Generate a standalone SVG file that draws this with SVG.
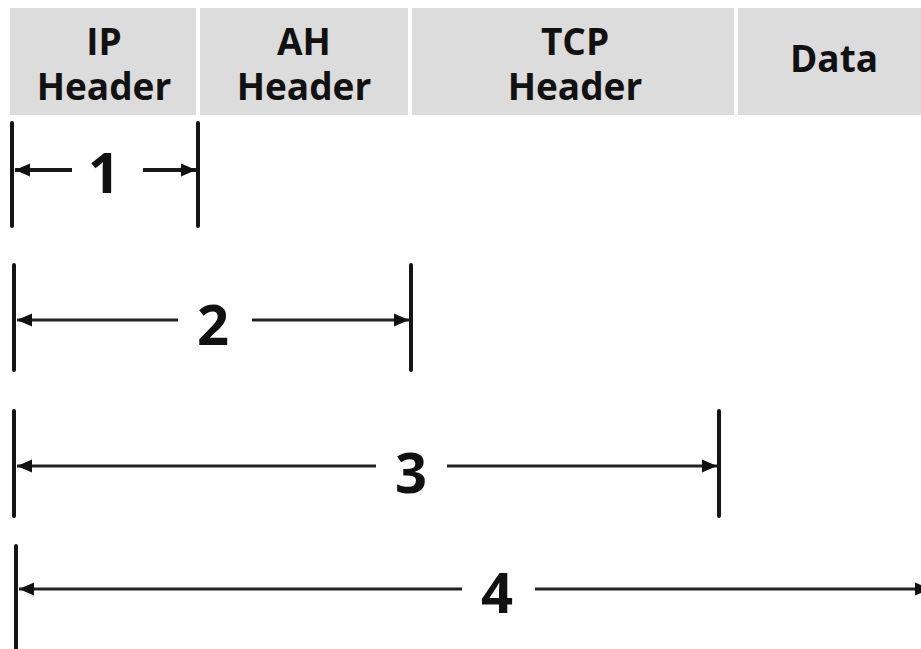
<svg xmlns="http://www.w3.org/2000/svg" width="921" height="649" viewBox="0 0 921 649">
  <style>
    .box { fill: #dcdcdc; }
    .hdr { font-family: "Open Sans", "Noto Sans", sans-serif; font-weight: 700; font-size: 37px; fill: #111; text-anchor: middle; }
    .num { font-family: "Open Sans", "Noto Sans", sans-serif; font-weight: 700; font-size: 56px; fill: #111; text-anchor: middle; }
    .tick { stroke: #151515; stroke-width: 4; stroke-linecap: round; fill: none; }
    .dim { stroke: #222; stroke-width: 3; fill: none; }
    .dim1 { stroke: #1a1a1a; stroke-width: 4; fill: none; }
  </style>
  <defs>
    <marker id="ah" markerUnits="userSpaceOnUse" markerWidth="16" markerHeight="16" viewBox="0 0 16 16" refX="15" refY="8" orient="auto-start-reverse">
      <path d="M0,1.5 L15,8 L0,14.5 Z" fill="#111"/>
    </marker>
  </defs>
  <rect width="921" height="649" fill="#fff"/>

  <g id="ip-header">
    <rect class="box" x="10" y="8" width="186" height="107"/>
    <text class="hdr" x="104" y="55">IP</text>
    <text class="hdr" x="104" y="100">Header</text>
  </g>
  <g id="ah-header">
    <rect class="box" x="200" y="8" width="208" height="107"/>
    <text class="hdr" x="304" y="55">AH</text>
    <text class="hdr" x="304" y="100">Header</text>
  </g>
  <g id="tcp-header">
    <rect class="box" x="412" y="8" width="322" height="107"/>
    <text class="hdr" x="575" y="55">TCP</text>
    <text class="hdr" x="575" y="100">Header</text>
  </g>
  <g id="data">
    <rect class="box" x="738" y="8" width="183" height="107"/>
    <text class="hdr" x="834" y="72">Data</text>
  </g>

  <g id="connectors">
    <!-- span 1 -->
    <line class="tick" x1="12" y1="123" x2="12" y2="226"/>
    <line class="tick" x1="198" y1="123" x2="198" y2="226"/>
    <line class="dim1" x1="72" y1="170" x2="15" y2="170" marker-end="url(#ah)"/>
    <line class="dim1" x1="143" y1="170" x2="196" y2="170" marker-end="url(#ah)"/>
    <!-- span 2 -->
    <line class="tick" x1="14" y1="265" x2="14" y2="370"/>
    <line class="tick" x1="411" y1="265" x2="411" y2="370"/>
    <line class="dim" x1="178" y1="320" x2="17" y2="320" marker-end="url(#ah)"/>
    <line class="dim" x1="252" y1="320" x2="409" y2="320" marker-end="url(#ah)"/>
    <!-- span 3 -->
    <line class="tick" x1="14" y1="411" x2="14" y2="516"/>
    <line class="tick" x1="719" y1="411" x2="719" y2="516"/>
    <line class="dim" x1="376" y1="466" x2="17" y2="466" marker-end="url(#ah)"/>
    <line class="dim" x1="447" y1="466" x2="717" y2="466" marker-end="url(#ah)"/>
    <!-- span 4 -->
    <line class="tick" x1="16" y1="546" x2="16" y2="652"/>
    <line class="dim" x1="462" y1="589" x2="19" y2="589" marker-end="url(#ah)"/>
    <line class="dim" x1="535" y1="589" x2="930" y2="589" marker-end="url(#ah)"/>
  </g>

  <g id="labels">
    <text class="num" x="104" y="193">1</text>
    <text class="num" x="213" y="345">2</text>
    <text class="num" x="411" y="493">3</text>
    <text class="num" x="497" y="613">4</text>
  </g>
</svg>
